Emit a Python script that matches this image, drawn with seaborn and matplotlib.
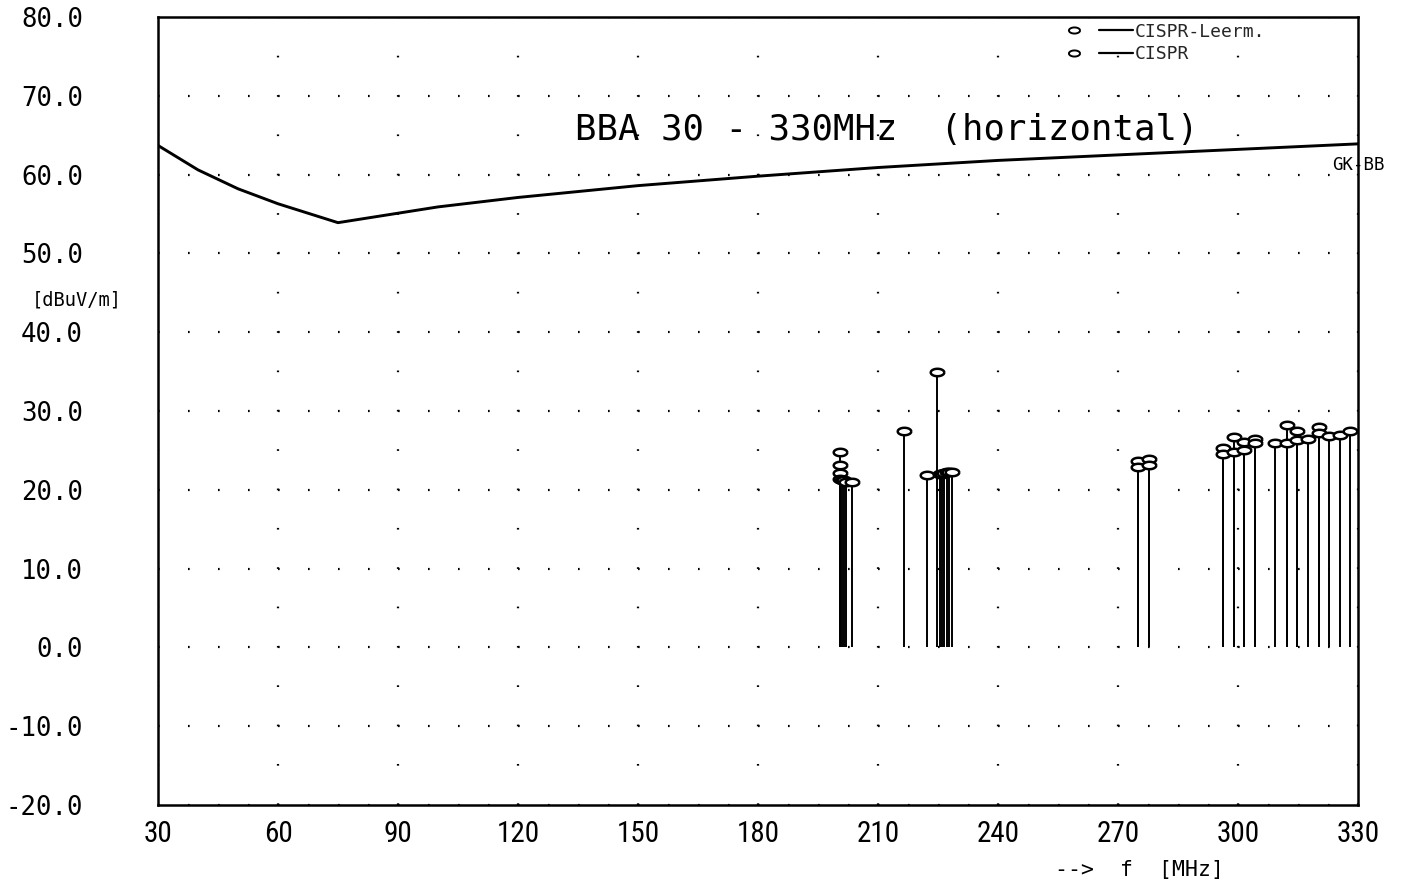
import numpy as np
import pandas as pd
import matplotlib
matplotlib.use("Agg")
import matplotlib.pyplot as plt
import seaborn as sns
from matplotlib.path import Path
from matplotlib.lines import Line2D
from matplotlib.legend_handler import HandlerTuple
from matplotlib.transforms import blended_transform_factory
from matplotlib import font_manager

# ---- data ----
limit_freq = [30, 40, 50, 60, 75, 90, 100, 120, 150, 180, 210, 240, 270, 300, 330]
limit_level = [63.7, 60.6, 58.2, 56.3, 53.9, 55.1, 55.9, 57.1, 58.6, 59.8, 60.9, 61.8, 62.5, 63.2, 63.9]

cispr_freq = [200.6, 201.0, 201.5, 201.9, 203.5, 216.6, 222.2, 224.8, 225.4, 226.0, 226.6,
              227.2, 227.8, 228.4, 275.0, 277.7, 296.2, 298.9, 301.6, 304.2, 309.3, 312.2,
              314.7, 317.4, 320.2, 322.7, 325.4, 328.0]
cispr_level = [21.4, 21.2, 21.2, 21.0, 21.0, 27.4, 21.9, 34.9, 22.0, 22.0, 22.1,
               22.2, 22.2, 22.2, 22.9, 23.2, 24.6, 24.8, 25.1, 25.9, 26.0, 26.0,
               26.3, 26.4, 27.2, 26.8, 26.9, 27.4]

leerm_freq = [200.4, 200.4, 200.5, 275.0, 277.7, 296.2, 298.9, 301.6, 304.2, 312.2, 314.7, 320.2]
leerm_level = [24.8, 23.1, 22.1, 23.6, 23.9, 25.3, 26.7, 26.1, 26.4, 28.2, 27.4, 28.0]

x_ticks = [30, 60, 90, 120, 150, 180, 210, 240, 270, 300, 330]
y_ticks = [-20, -10, 0, 10, 20, 30, 40, 50, 60, 70, 80]
x_tick_labels = [str(v) for v in x_ticks]
y_tick_labels = [f"{v:.1f}" for v in y_ticks]

title_text = "BBA 30 - 330MHz  (horizontal)"
series_names = ["CISPR-Leerm.", "CISPR"]

meas = pd.concat([
    pd.DataFrame({"freq": leerm_freq, "level": leerm_level, "series": series_names[0]}),
    pd.DataFrame({"freq": cispr_freq, "level": cispr_level, "series": series_names[1]}),
], ignore_index=True)
limit = pd.DataFrame({"freq": limit_freq, "level": limit_level})

# ---- style ----
sns.set_theme(style="white")
plt.rcParams["lines.scale_dashes"] = False
plt.rcParams["font.family"] = ["DejaVu Sans Mono", "DejaVu Sans"]
mono = ["DejaVu Sans Mono", "DejaVu Sans"]

available = {f.name for f in font_manager.fontManager.ttflist}
narrow_candidates = ["Liberation Sans Narrow", "Roboto Condensed", "DejaVu Sans Condensed",
                     "Open Sans Condensed", "Noto Sans Condensed"]
narrow_family = next((n for n in narrow_candidates if n in available), None)
if narrow_family is not None:
    xtick_font = dict(fontfamily=[narrow_family, "DejaVu Sans"], fontsize=21)
else:
    xtick_font = dict(fontfamily=["DejaVu Sans"], fontstretch="condensed", fontsize=17)

fig = plt.figure(figsize=(14.02, 8.92), dpi=100)
fig.patch.set_facecolor("white")
ax = fig.add_axes([158 / 1402, 1 - 805 / 892, 1200 / 1402, 788 / 892])
ax.set_facecolor("white")

# ellipse marker
t = np.linspace(0, 2 * np.pi, 41)
ell = Path(np.column_stack([np.cos(t), 0.55 * np.sin(t)]))

# limit line
sns.lineplot(data=limit, x="freq", y="level", color="black", linewidth=2.1, ax=ax, zorder=3)

# stems
ax.vlines(meas["freq"], 0, meas["level"], colors="black", linewidth=1.4, zorder=2)
sns.scatterplot(data=meas, x="freq", y="level", marker=ell, s=95, color="white",
                edgecolor="black", linewidth=1.8, legend=False, ax=ax, zorder=4)

ax.set_xlim(30, 330)
ax.set_ylim(-20, 80)
ax.set_xticks(x_ticks)
ax.set_xticklabels(x_tick_labels, **xtick_font)
ax.set_yticks(y_ticks)
ax.set_yticklabels(y_tick_labels, fontfamily=mono, fontsize=18.5)
ax.set_xlabel("")
ax.set_ylabel("")

ax.tick_params(axis="both", direction="inout", length=10, width=1.6, color="black",
               labelcolor="black")
ax.tick_params(axis="y", pad=49)
ax.tick_params(axis="x", pad=6)

# dotted grid
ax.set_axisbelow(True)
ax.xaxis.grid(True, color="black", linewidth=1.6, linestyle=(0, (1.2, 27.13)))
ax.yaxis.grid(True, color="black", linewidth=1.6, linestyle=(0, (1.2, 20.4)))

for s in ax.spines.values():
    s.set_visible(True)
    s.set_color("black")
    s.set_linewidth(1.8)

# texts
ax.text(134.25, 64.4, title_text, fontsize=25.7, fontfamily=mono, ha="left",
        va="baseline", color="black")
ax.text(330, 61.25, "GK-BB", fontsize=12.5, fontfamily=mono, ha="center", va="center",
        color="black", clip_on=False, zorder=5)
tr = blended_transform_factory(ax.transAxes, ax.transData)
ax.text(-0.068, 44.1, "[dBuV/m]", transform=tr, fontsize=13.5, fontfamily=mono,
        ha="center", va="center", color="black")
ax.text(0.818, -0.082, "-->  f  [MHz]", transform=ax.transAxes, fontsize=15.5,
        fontfamily=mono, ha="center", va="center", color="black")

# legend
mk = Line2D([], [], linestyle="none", marker=ell, markersize=8, markerfacecolor="white",
            markeredgecolor="black", markeredgewidth=1.4)
ln = Line2D([], [], color="black", linewidth=1.6)
leg = ax.legend([(mk, ln), (mk, ln)], series_names, loc="upper right",
                bbox_to_anchor=(0.9225, 0.993), frameon=False,
                handlelength=4.2, handletextpad=0.1, labelspacing=0.25,
                borderpad=0, borderaxespad=0,
                handler_map={tuple: HandlerTuple(ndivide=2, pad=0.44)},
                prop={"family": mono, "size": 13})

fig.savefig("out.png", dpi=100, facecolor="white")
